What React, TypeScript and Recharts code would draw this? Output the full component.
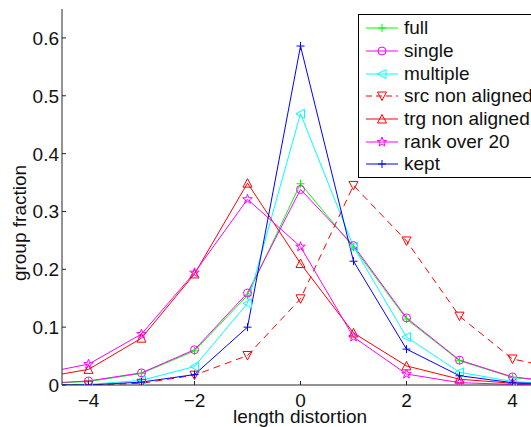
import { LineChart, Line, XAxis, YAxis, Legend } from 'recharts'

const xs = [-5, -4, -3, -2, -1, 0, 1, 2, 3, 4, 5]

const full     = [0.002, 0.006, 0.020, 0.059, 0.155, 0.348, 0.238, 0.114, 0.042, 0.013, 0.004]
const single   = [0.002, 0.007, 0.021, 0.061, 0.159, 0.338, 0.241, 0.116, 0.043, 0.014, 0.004]
const multiple = [0.000, 0.001, 0.008, 0.032, 0.141, 0.469, 0.239, 0.083, 0.022, 0.006, 0.001]
const srcNon   = [0.000, 0.000, 0.003, 0.017, 0.051, 0.149, 0.345, 0.249, 0.119, 0.045, 0.026]
const trgNon   = [0.011, 0.027, 0.081, 0.192, 0.349, 0.210, 0.090, 0.033, 0.010, 0.003, 0.001]
const rank20   = [0.018, 0.036, 0.088, 0.194, 0.321, 0.239, 0.083, 0.019, 0.004, 0.001, 0.000]
const kept     = [0.000, 0.000, 0.005, 0.018, 0.100, 0.586, 0.214, 0.062, 0.016, 0.004, 0.001]

const xTicks = [-4, -2, 0, 2, 4]
const yTicks = [0, 0.1, 0.2, 0.3, 0.4, 0.5, 0.6]

type Shape = 'plus' | 'circle' | 'left' | 'down' | 'up' | 'star'

const series: { key: string; name: string; color: string; shape: Shape; dash?: string }[] = [
  { key: 'full',     name: 'full',            color: '#00ff00', shape: 'plus' },
  { key: 'single',   name: 'single',          color: '#ff00ff', shape: 'circle' },
  { key: 'multiple', name: 'multiple',        color: '#00ffff', shape: 'left' },
  { key: 'srcNon',   name: 'src non aligned', color: '#ff0000', shape: 'down', dash: '7 5' },
  { key: 'trgNon',   name: 'trg non aligned', color: '#ff0000', shape: 'up' },
  { key: 'rank20',   name: 'rank over 20',    color: '#ff00ff', shape: 'star' },
  { key: 'kept',     name: 'kept',            color: '#0000ff', shape: 'plus' },
]

const data = xs.map((x, i) => ({
  x,
  full: full[i],
  single: single[i],
  multiple: multiple[i],
  srcNon: srcNon[i],
  trgNon: trgNon[i],
  rank20: rank20[i],
  kept: kept[i],
}))

const FONT = '"Liberation Sans", Arial, Helvetica, sans-serif'
const FS = 19
const AXIS = '#262626'

function Marker({ cx, cy, shape, color }: { cx: number; cy: number; shape: Shape; color: string }) {
  const p = { fill: 'none', stroke: color, strokeWidth: 1 }
  switch (shape) {
    case 'plus':
      return (
        <g {...p}>
          <line x1={cx - 4} y1={cy} x2={cx + 4} y2={cy} />
          <line x1={cx} y1={cy - 4} x2={cx} y2={cy + 4} />
        </g>
      )
    case 'circle':
      return <circle cx={cx} cy={cy} r={4} {...p} />
    case 'left':
      return <polygon points={`${cx - 4.5},${cy} ${cx + 4},${cy - 4.5} ${cx + 4},${cy + 4.5}`} {...p} />
    case 'down':
      return <polygon points={`${cx - 4.5},${cy - 4} ${cx + 4.5},${cy - 4} ${cx},${cy + 4.5}`} {...p} />
    case 'up':
      return <polygon points={`${cx - 4.5},${cy + 4} ${cx + 4.5},${cy + 4} ${cx},${cy - 4.5}`} {...p} />
    case 'star': {
      const pts: string[] = []
      for (let k = 0; k < 10; k++) {
        const r = k % 2 === 0 ? 5 : 2
        const a = -Math.PI / 2 + (k * Math.PI) / 5
        pts.push(`${cx + r * Math.cos(a)},${cy + r * Math.sin(a)}`)
      }
      return <polygon points={pts.join(' ')} {...p} />
    }
  }
}

function YTick({ x, y, payload }: any) {
  const v = payload.value as number
  return (
    <g>
      <line x1={x} y1={y} x2={x + 4} y2={y} stroke={AXIS} />
      <text x={x - 3} y={y + 7} textAnchor="end" fontSize={FS} fontFamily={FONT} fill="#111">
        {v === 0 ? '0' : v.toFixed(1)}
      </text>
    </g>
  )
}

function XTick({ x, y, payload }: any) {
  const v = payload.value as number
  return (
    <g>
      <line x1={x} y1={y} x2={x} y2={y - 4} stroke={AXIS} />
      <text x={x} y={y + 22} textAnchor="middle" fontSize={FS} fontFamily={FONT} fill="#111">
        {v < 0 ? '\u2212' + Math.abs(v) : String(v)}
      </text>
    </g>
  )
}

function BoxLegend() {
  return (
    <div
      style={{
        border: '1.5px solid #000',
        background: '#fff',
        width: 200,
        padding: '2px 0 1px 0',
        fontFamily: FONT,
        fontSize: FS,
        color: '#111',
      }}
    >
      {series.map(s => (
        <div key={s.key} style={{ display: 'flex', alignItems: 'center', height: 22.7, whiteSpace: 'nowrap' }}>
          <svg width={45} height={22} style={{ flex: 'none' }}>
            <line x1={7} y1={11} x2={39} y2={11} stroke={s.color} strokeDasharray={s.dash ? '6 4' : undefined} />
            <Marker cx={23} cy={11} shape={s.shape} color={s.color} />
          </svg>
          <span>{s.name}</span>
        </div>
      ))}
    </div>
  )
}

export default function App() {
  return (
    <div style={{ width: 531, height: 427, overflow: 'hidden', position: 'relative', background: '#fff' }}>
      <style>{'html, body { margin: 0; padding: 0; overflow: hidden; }'}</style>
      <LineChart
        width={560}
        height={427}
        data={data}
        margin={{ top: 9, right: 21, bottom: 0, left: 0 }}
      >
        <XAxis
          dataKey="x"
          type="number"
          domain={[-4.5, 4.5]}
          allowDataOverflow
          ticks={xTicks}
          tickSize={0}
          tickMargin={0}
          tickLine={false}
          tick={<XTick />}
          height={42}
          stroke={AXIS}
          label={{
            content: () => (
              <text x={300} y={423} textAnchor="middle" fontSize={FS} fontFamily={FONT} fill="#111">
                length distortion
              </text>
            ),
          }}
        />
        <YAxis
          type="number"
          domain={[0, 0.65]}
          allowDataOverflow
          ticks={yTicks}
          width={62}
          tickSize={0}
          tickMargin={0}
          tickLine={false}
          tick={<YTick />}
          stroke={AXIS}
          label={{
            content: () => (
              <text
                x={19}
                y={223}
                transform="rotate(-90 19 223)"
                textAnchor="middle"
                dominantBaseline="central"
                fontSize={FS}
                fontFamily={FONT}
                fill="#111"
              >
                group fraction
              </text>
            ),
          }}
        />
        {series.map(s => (
          <Line
            key={s.key}
            dataKey={s.key}
            name={s.name}
            type="linear"
            stroke={s.color}
            strokeWidth={1}
            strokeDasharray={s.dash}
            isAnimationActive={false}
            dot={(props: any) => {
              const { cx, cy, payload, index } = props
              if (payload.x < -4.5 || payload.x > 4.5) return <g key={`${s.key}-${index}`} />
              return <Marker key={`${s.key}-${index}`} cx={cx} cy={cy} shape={s.shape} color={s.color} />
            }}
            activeDot={false}
          />
        ))}
        <Legend
          layout="horizontal"
          verticalAlign="middle"
          align="center"
          content={<BoxLegend />}
          wrapperStyle={{ position: 'absolute', left: 358, top: 14, width: 210 }}
        />
      </LineChart>
    </div>
  )
}
